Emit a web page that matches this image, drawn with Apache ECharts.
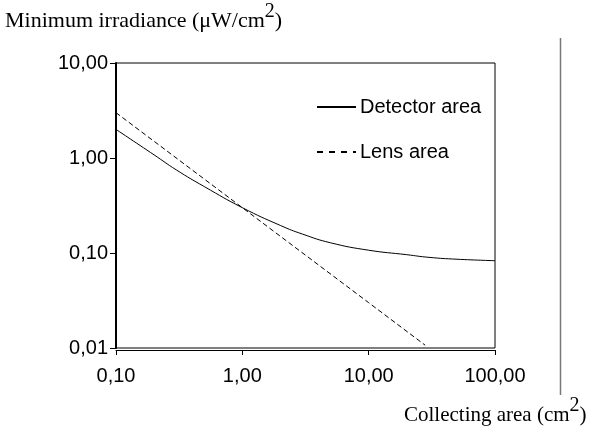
<!DOCTYPE html>
<html>
<head>
<meta charset="utf-8">
<script src="https://cdn.jsdelivr.net/npm/echarts@6/dist/echarts.min.js"></script>
<style>
  html, body { margin: 0; padding: 0; background: #fff; }
  #main { width: 593px; height: 430px; }
</style>
</head>
<body>
<div id="main"></div>
<script>
// values (log-log)
var detectorX = [0.1, 0.2, 0.3, 0.5, 1, 2, 3, 5, 10, 20, 30, 50, 100];
var detectorY = [2.0, 1.08, 0.75, 0.50, 0.30, 0.195, 0.158, 0.128, 0.107, 0.096, 0.090, 0.086, 0.083];
var lensX = [0.1, 1, 10, 28];
var lensY = [3.0, 0.30, 0.030, 0.0107];

function pairs(xs, ys) {
    return xs.map(function(x, i) { return [x, ys[i]]; });
}

function fmt(v) {
    return v.toFixed(2).replace('.', ',');
}

var sans = 'Liberation Sans, Arial, sans-serif';
var serif = 'Liberation Serif, Times New Roman, serif';

var myChart = echarts.init(document.getElementById('main'));

var option = {
    backgroundColor: '#fff',
    animation: false,
    grid: {
        left: 116,
        top: 63,
        right: 98,
        bottom: 82,
        show: true,
        borderColor: '#000',
        borderWidth: 1
    },
    legend: {
        orient: 'vertical',
        left: 316,
        top: 97,
        padding: 0,
        itemWidth: 39,
        itemHeight: 10,
        itemGap: 25,
        itemStyle: { opacity: 0 },
        textStyle: {
            fontFamily: sans,
            fontSize: 20,
            color: '#000',
            padding: [0, 0, 0, -1]
        },
        data: [
            { name: 'Detector area' },
            { name: 'Lens area', lineStyle: { type: [6, 6] } }
        ]
    },
    xAxis: {
        type: 'log',
        logBase: 10,
        min: 0.1,
        max: 100,
        offset: 2,
        axisLine: { lineStyle: { color: '#000', width: 1 } },
        axisTick: { length: 5, lineStyle: { color: '#000' } },
        minorTick: { show: false },
        splitLine: { show: false },
        axisLabel: {
            color: '#000',
            fontFamily: sans,
            fontSize: 20,
            margin: 16,
            formatter: fmt
        }
    },
    yAxis: {
        type: 'log',
        logBase: 10,
        min: 0.01,
        max: 10,
        axisLine: { show: true, lineStyle: { color: '#000', width: 2 } },
        axisTick: { show: true, length: 6, lineStyle: { color: '#000' } },
        splitLine: { show: false },
        axisLabel: {
            color: '#000',
            fontFamily: sans,
            fontSize: 20,
            margin: 8,
            formatter: fmt
        }
    },
    series: [{
        name: 'Detector area',
        type: 'line',
        smooth: true,
        symbol: 'none',
        lineStyle: { color: '#000', width: 1 },
        itemStyle: { color: '#000' },
        data: pairs(detectorX, detectorY)
    }, {
        name: 'Lens area',
        type: 'line',
        symbol: 'none',
        lineStyle: { color: '#000', width: 1, type: [5, 3] },
        itemStyle: { color: '#000' },
        data: pairs(lensX, lensY)
    }],
    graphic: [{
        type: 'text',
        left: 5,
        top: 2,
        style: {
            text: '{a|Minimum irradiance (μW/cm}{s|2}{a|)}',
            rich: {
                a: { fontFamily: serif, fontSize: 22, fill: '#000', padding: [9, 0, 0, 0] },
                s: { fontFamily: serif, fontSize: 20, fill: '#000', padding: [0, 0, 9, 0] }
            }
        }
    }, {
        type: 'text',
        left: 404,
        top: 396,
        style: {
            text: '{a|Collecting area (cm}{s|2}{a|)}',
            rich: {
                a: { fontFamily: serif, fontSize: 21, fill: '#000', padding: [9, 0, 0, 0] },
                s: { fontFamily: serif, fontSize: 20, fill: '#000', padding: [0, 0, 9, 0] }
            }
        }
    }, {
        type: 'line',
        shape: { x1: 560.5, y1: 38, x2: 560.5, y2: 395 },
        style: { stroke: '#777', lineWidth: 1.5 }
    }]
};

myChart.setOption(option);
</script>
</body>
</html>
